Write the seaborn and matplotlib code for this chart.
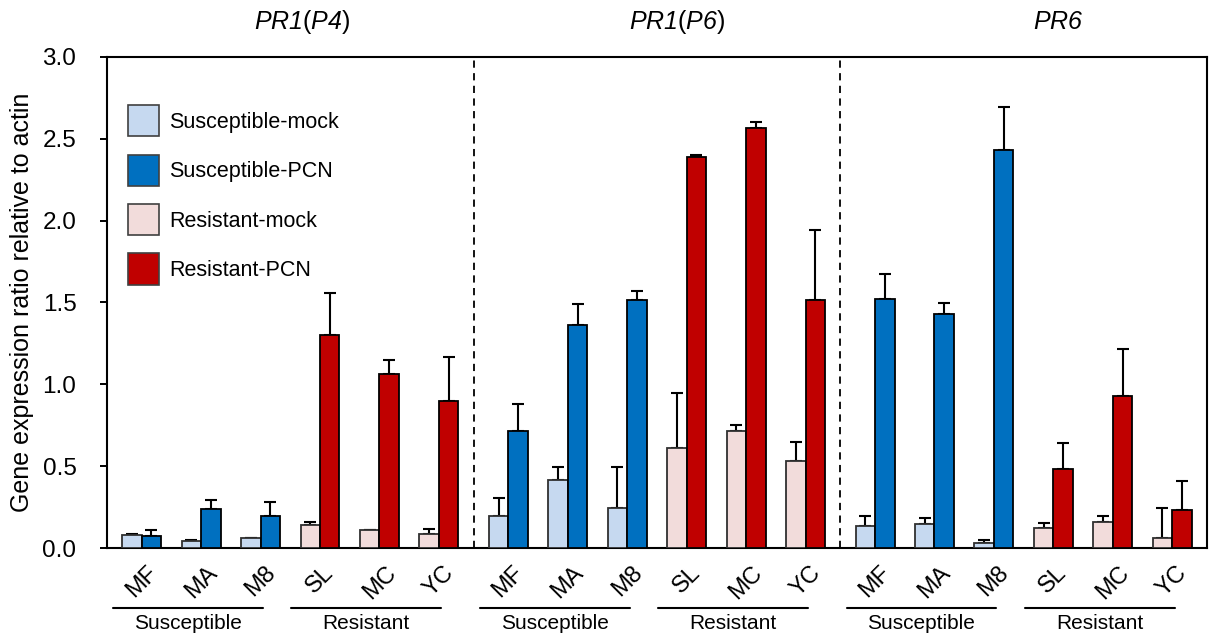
import numpy as np
import pandas as pd
import seaborn as sns
import matplotlib.pyplot as plt
from matplotlib.patches import Patch
import matplotlib.transforms as mtransforms

# data
genes = ['PR1(P4)', 'PR1(P6)', 'PR6']
gene_titles = [r'$\mathsf{PR1}$($\mathsf{P4}$)', r'$\mathsf{PR1}$($\mathsf{P6}$)', r'$\mathsf{PR6}$']
cultivars = ['MF', 'MA', 'M8', 'SL', 'MC', 'YC']
cultivar_group = ['Susceptible', 'Susceptible', 'Susceptible', 'Resistant', 'Resistant', 'Resistant']

pr1p4_mock = [0.08, 0.043, 0.059, 0.14, 0.11, 0.088]
pr1p4_mock_err = [0.004, 0.004, 0.003, 0.02, 0.0, 0.03]
pr1p4_pcn = [0.075, 0.24, 0.195, 1.30, 1.063, 0.896]
pr1p4_pcn_err = [0.035, 0.053, 0.085, 0.26, 0.085, 0.27]

pr1p6_mock = [0.197, 0.415, 0.246, 0.611, 0.717, 0.533]
pr1p6_mock_err = [0.107, 0.078, 0.247, 0.334, 0.034, 0.115]
pr1p6_pcn = [0.717, 1.362, 1.515, 2.39, 2.564, 1.515]
pr1p6_pcn_err = [0.163, 0.128, 0.055, 0.01, 0.04, 0.43]

pr6_mock = [0.134, 0.145, 0.029, 0.124, 0.161, 0.061]
pr6_mock_err = [0.063, 0.036, 0.018, 0.031, 0.034, 0.185]
pr6_pcn = [1.521, 1.429, 2.429, 0.483, 0.93, 0.232]
pr6_pcn_err = [0.153, 0.07, 0.265, 0.157, 0.287, 0.177]

mock_vals = [pr1p4_mock, pr1p6_mock, pr6_mock]
mock_errs = [pr1p4_mock_err, pr1p6_mock_err, pr6_mock_err]
pcn_vals = [pr1p4_pcn, pr1p6_pcn, pr6_pcn]
pcn_errs = [pr1p4_pcn_err, pr1p6_pcn_err, pr6_pcn_err]

colors = {
    ('Susceptible', 'mock'): '#C6D9F0',
    ('Susceptible', 'PCN'): '#0070C0',
    ('Resistant', 'mock'): '#F2DCDB',
    ('Resistant', 'PCN'): '#C00000',
}

# layout
panel_stride = 6.17
bar_w = 0.328

rows = []
for p, g in enumerate(genes):
    for i, c in enumerate(cultivars):
        center = p * panel_stride + i
        rows.append(dict(gene=g, cultivar=c, group=cultivar_group[i], treatment='mock',
                         value=mock_vals[p][i], err=mock_errs[p][i], x=center - bar_w / 2))
        rows.append(dict(gene=g, cultivar=c, group=cultivar_group[i], treatment='PCN',
                         value=pcn_vals[p][i], err=pcn_errs[p][i], x=center + bar_w / 2))
df = pd.DataFrame(rows)

sns.set_style('white')
plt.rcParams['font.family'] = ['Liberation Sans', 'DejaVu Sans']
plt.rcParams['mathtext.fontset'] = 'custom'
plt.rcParams['mathtext.sf'] = 'Liberation Sans:italic'
plt.rcParams['mathtext.it'] = 'Liberation Sans:italic'
plt.rcParams['mathtext.rm'] = 'Liberation Sans'
for k in ['text.color', 'axes.labelcolor', 'xtick.color', 'ytick.color']:
    plt.rcParams[k] = 'black'

fig = plt.figure(figsize=(12.14, 6.43), dpi=100)
ax = fig.add_axes([0.0881, 0.1477, 0.9061, 0.7637])

for (grp, trt), col in colors.items():
    sub = df[(df.group == grp) & (df.treatment == trt)]
    edge = '#303030' if trt == 'mock' else 'black'
    sns.barplot(data=sub, x='x', y='value', native_scale=True, orient='x',
                width=bar_w, color=col, saturation=1, errorbar=None,
                edgecolor=edge, linewidth=1.3, ax=ax, zorder=3)
    ax.errorbar(sub.x, sub.value, yerr=[np.zeros(len(sub)), sub.err], fmt='none',
                ecolor='black', elinewidth=1.5, capsize=4.5, capthick=1.5, zorder=2)

# axes
ax.set_xlim(-0.585, 2 * panel_stride + 5 + 0.585)
ax.set_ylim(0, 3.0)
ax.set_yticks(np.arange(0, 3.01, 0.5))
ax.set_yticklabels([f'{v:.1f}' for v in np.arange(0, 3.01, 0.5)], fontsize=17.5)
ax.tick_params(axis='y', direction='out', length=5, width=1.4, left=True, pad=17)
ax.set_xlabel('')
ax.set_ylabel('Gene expression ratio relative to actin', fontsize=18, labelpad=6)
for s in ax.spines.values():
    s.set_linewidth(1.5)
    s.set_color('black')

centers = [p * panel_stride + i for p in range(3) for i in range(6)]
ax.set_xticks(centers)
ax.set_xticklabels(cultivars * 3, rotation=45, ha='center', fontsize=17)
ax.tick_params(axis='x', length=0, pad=10)

# panel dividers
for p in range(1, 3):
    ax.axvline(p * panel_stride - (panel_stride - 5) / 2, color='black',
               lw=1.3, ls=(0, (4, 3)), zorder=1)

trans = mtransforms.blended_transform_factory(ax.transData, ax.transAxes)
title_offsets = [0.2, 0.34, 0.59]
for p, t in enumerate(gene_titles):
    ax.text(p * panel_stride + 2.5 + title_offsets[p], 1.071, t, transform=trans,
            ha='center', va='center', fontsize=18)
    for k, lab in enumerate(['Susceptible', 'Resistant']):
        x0 = p * panel_stride + 3 * k - 0.48
        x1 = p * panel_stride + 3 * k + 2.04
        ax.plot([x0, x1], [-0.122, -0.122], color='black', lw=1.5,
                transform=trans, clip_on=False)
        ax.text((x0 + x1) / 2, -0.135, lab, transform=trans, ha='center',
                va='top', fontsize=15)

handles = [Patch(facecolor=col, edgecolor='#404040', linewidth=1.2,
                 label=f'{grp}-{trt}') for (grp, trt), col in colors.items()]
ax.legend(handles=handles, loc='upper left', bbox_to_anchor=(0.019, 0.902),
          frameon=False, fontsize=15.5, handlelength=1.45, handleheight=1.85,
          labelspacing=0.85, handletextpad=0.45, borderpad=0, borderaxespad=0)

fig.savefig('out.png', dpi=100)
